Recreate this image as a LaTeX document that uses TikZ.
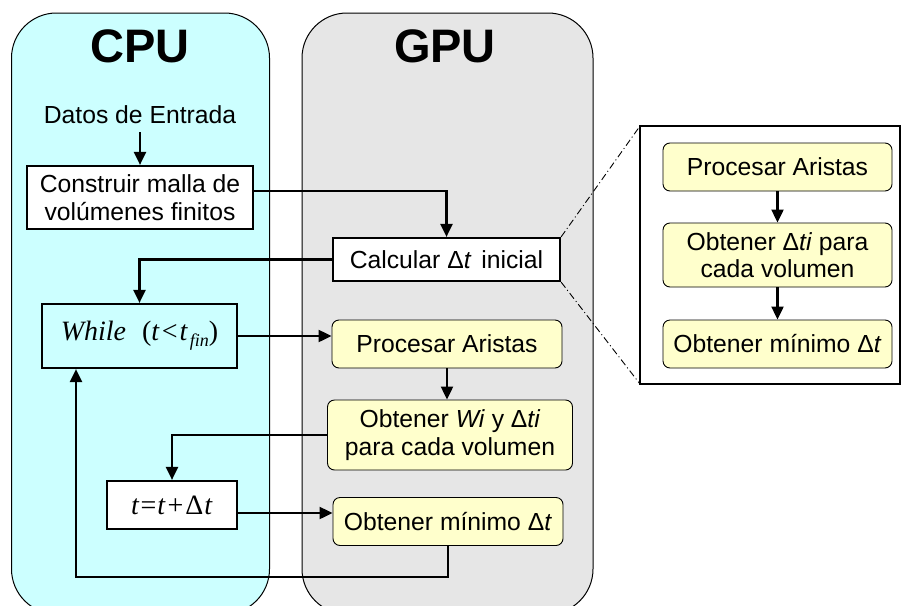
\documentclass[tikz,border=0pt]{standalone}
\usepackage{fontspec}
\setmainfont{Liberation Sans}
\newfontfamily\timesfont{Liberation Serif}
\usetikzlibrary{positioning,arrows.meta}
\definecolor{cpupanel}{HTML}{CCFFFF}
\definecolor{gpupanel}{HTML}{E6E6E6}
\definecolor{gpubox}{HTML}{FFFFCC}
\tikzset{
  boxtext/.style={font=\fontsize{24.7}{27.5}\selectfont,align=center,inner sep=0pt},
  cpubox/.style={boxtext,draw,line width=2.2pt},
  gpustep/.style={boxtext,draw,line width=0.9pt,rounded corners=7pt,fill=gpubox},
  flow/.style={line width=2.2pt,-{Triangle[length=13pt,width=12pt]}},
  zoomline/.style={line width=0.9pt,dash pattern=on 7pt off 3pt on 1pt off 3pt},
  panel/.style={draw,line width=1pt,rounded corners=45pt},
  header/.style={font=\fontsize{47}{50}\selectfont\bfseries}
}

\begin{document}
\begin{tikzpicture}[x=1pt,y=-1pt]
\useasboundingbox (0,0) rectangle (901,605);
\begin{scope}
\clip (0,0) rectangle (901,605);
\draw[panel,fill=cpupanel] (11.5,13) rectangle (269.5,614);
\draw[panel,fill=gpupanel] (302,13) rectangle (593,614);
\end{scope}
\node[header] (cpu) at (140,46) {CPU};
\node[header] (gpu) at (445,46) {GPU};

\node[boxtext,inner sep=8pt] (datos) at (140,115) {Datos de Entrada};
\node[cpubox,fill=white,minimum width=226,minimum height=63] (malla) at (140,197.5) {Construir malla de\\vol\'umenes finitos};
\node[cpubox,fill=white,minimum width=227,minimum height=43] (dtini) at (446.5,259.5) {Calcular Δ\textit{t}\hspace{3pt} inicial};
\node[cpubox,minimum width=195,minimum height=64] (cond) at (139.5,336)
  {\timesfont\fontsize{28}{30}\selectfont\textit{While}\hspace{16pt}(\textit{t}\hspace{2pt}<\hspace{2pt}\textit{t}\raisebox{-6pt}{\fontsize{18}{18}\selectfont\hspace{2pt}\textit{fin}})};
\node[cpubox,fill=white,minimum width=130,minimum height=48] (tupd) at (172,505)
  {\timesfont\fontsize{28}{30}\selectfont\textit{t}\hspace{1pt}=\hspace{1pt}\textit{t}\hspace{2pt}+\hspace{2pt}Δ\hspace{1pt}\textit{t}};

\node[gpustep,minimum width=230,minimum height=48] (proc) at (447,344) {Procesar Aristas};
\node[gpustep,minimum width=245,minimum height=70] (obtwi) at (450,435) {Obtener \textit{Wi} y Δ\textit{ti}\\para cada volumen};
\node[gpustep,minimum width=230,minimum height=48] (minimo) at (448,521.5) {Obtener m\'inimo Δ\textit{t}};

\draw[zoomline] (dtini.north east) -- (640,126) coordinate (znw);
\draw[zoomline] (dtini.south east) -- (640,384) coordinate (zsw);
\node[draw,line width=1.3pt,fill=white,minimum width=260,minimum height=258,inner sep=0pt] (zoom) at (770,255) {};
\node[gpustep,minimum width=229,minimum height=48] (zproc) at (777.5,167) {Procesar Aristas};
\node[gpustep,minimum width=229,minimum height=64] (zobt) at (777.5,255) {Obtener Δ\textit{ti} para\\cada volumen};
\node[gpustep,minimum width=229,minimum height=48] (zmin) at (777.5,344) {Obtener m\'inimo Δ\textit{t}};

\draw[flow] (datos) -- (malla);
\draw[flow] ([yshift=6.5pt]malla.east) -| (dtini.north);
\draw[flow] (dtini.west) -| (cond.north);
\draw[flow] (cond.east) -- (cond.east -| proc.west);
\draw[flow] (proc.south) -- (obtwi.north -| proc.south);
\draw[flow] (obtwi.west) -| (tupd.north);
\draw[flow] ([yshift=-8pt]tupd.east) coordinate (tout) -- (tout -| minimo.west);
\coordinate (back) at (76,577);
\draw[flow] (minimo.south) |- (back) -- (back |- cond.south);
\draw[flow] (zproc) -- (zobt);
\draw[flow] (zobt) -- (zmin);
\end{tikzpicture}
\end{document}
